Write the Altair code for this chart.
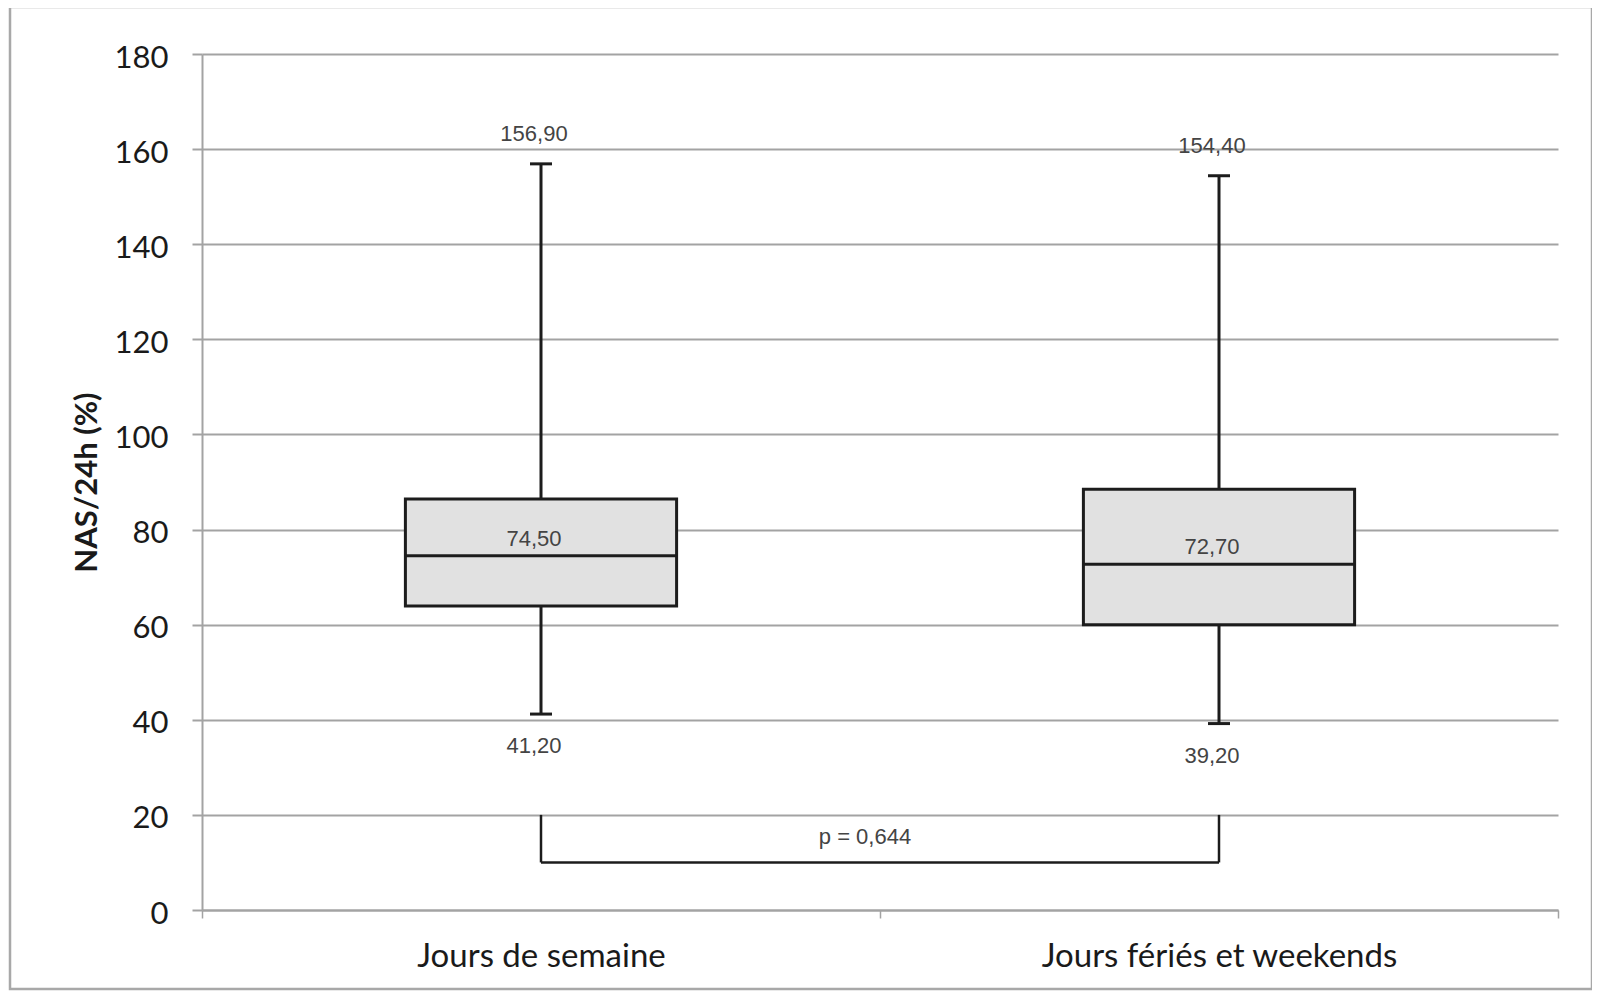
import altair as alt
import pandas as pd

# ---- data ----
categories = ["Jours de semaine", "Jours fériés et weekends"]
mins = [41.2, 39.2]
q1s = [63.9, 60.0]
medians = [74.5, 72.7]
q3s = [86.4, 88.5]
maxs = [156.9, 154.4]
p_text = "p = 0,644"
bracket_top = 20
bracket_low = 10
p_label_y = 15.3


def fr(v):
    return f"{v:.2f}".replace(".", ",")


df = pd.DataFrame({
    "cat": categories,
    "min": mins,
    "q1": q1s,
    "median": medians,
    "q3": q3s,
    "max": maxs,
    "min_lab": [fr(v) for v in mins],
    "med_lab": [fr(v) for v in medians],
    "max_lab": [fr(v) for v in maxs],
    "b_top": [bracket_top] * 2,
    "b_low": [bracket_low] * 2,
})
bracket_h = pd.DataFrame({"c1": [categories[0]], "c2": [categories[1]], "y": [bracket_low]})
p_df = pd.DataFrame({"t": [p_text], "y": [p_label_y]})
frame_df = pd.DataFrame({"k": [0]})

W, H = 1356, 856
GRAY = "#a3a3a3"
INK = "#1c1c1c"
LABEL = "#444444"

xenc = alt.X(
    "cat:N",
    sort=categories,
    scale=alt.Scale(paddingInner=0, paddingOuter=0),
    axis=alt.Axis(
        title=None, labelAngle=0, labelFont="Lato", labelFontSize=33,
        labelColor="#1a1a1a", labelPadding=22, labelLimit=0, tickBand="extent",
        tickSize=8, tickWidth=1.5, tickColor=GRAY, domainColor=GRAY,
        domainWidth=2, grid=False,
    ),
)
yscale = alt.Scale(domain=[0, 180], nice=False, zero=True)
yaxis = alt.Axis(
    values=list(range(0, 181, 20)), title="NAS/24h (%)", grid=True,
    gridColor=GRAY, gridWidth=2, domainColor=GRAY, domainWidth=2,
    tickColor=GRAY, tickWidth=2, tickSize=10, labelFont="Lato",
    labelFontSize=31, labelColor="#1a1a1a", labelPadding=24, labelOffset=4,
    titleFont="Lato", titleFontWeight="bold", titleFontSize=31,
    titleColor="#1a1a1a", titleAngle=270, titleX=-115, titleY=H / 2,
    titleAlign="center", titleBaseline="middle",
)

base = alt.Chart(df)

frame = alt.Chart(frame_df).mark_rect(filled=False, stroke="#a8a8a8", strokeWidth=2.5).encode(
    x=alt.value(-192), x2=alt.value(1390), y=alt.value(-47), y2=alt.value(935)
)

whisker = base.mark_rule(color=INK, strokeWidth=3).encode(
    x=xenc,
    y=alt.Y("min:Q", scale=yscale, axis=yaxis),
    y2="max:Q",
)
cap_lo = base.mark_tick(color=INK, thickness=3, size=22, opacity=1).encode(x=xenc, y=alt.Y("min:Q", scale=yscale))
cap_hi = base.mark_tick(color=INK, thickness=3, size=22, opacity=1).encode(x=xenc, y=alt.Y("max:Q", scale=yscale))
box = base.mark_bar(width={"band": 0.4}, fill="#e1e1e1", stroke=INK, strokeWidth=3, opacity=1).encode(
    x=xenc, y=alt.Y("q1:Q", scale=yscale), y2="q3:Q"
)
med = base.mark_tick(color=INK, thickness=3, size=272, opacity=1).encode(x=xenc, y=alt.Y("median:Q", scale=yscale))

txt_kw = dict(font="Liberation Sans", fontSize=22, color=LABEL, baseline="middle", dx=-7)
max_t = base.mark_text(dy=-30, **txt_kw).encode(x=xenc, y=alt.Y("max:Q", scale=yscale), text="max_lab:N")
min_t = base.mark_text(dy=32, **txt_kw).encode(x=xenc, y=alt.Y("min:Q", scale=yscale), text="min_lab:N")
med_t = base.mark_text(dy=-17, **txt_kw).encode(x=xenc, y=alt.Y("median:Q", scale=yscale), text="med_lab:N")

b_vert = base.mark_rule(color=INK, strokeWidth=2.5).encode(
    x=xenc, y=alt.Y("b_low:Q", scale=yscale), y2="b_top:Q"
)
b_horiz = alt.Chart(bracket_h).mark_rule(color=INK, strokeWidth=2.5).encode(
    x=alt.X("c1:N", sort=categories, scale=alt.Scale(paddingInner=0, paddingOuter=0)),
    x2="c2:N",
    y=alt.Y("y:Q", scale=yscale),
)
p_t = alt.Chart(p_df).mark_text(font="Liberation Sans", fontSize=22, color=LABEL, baseline="middle", dx=-15).encode(
    x=alt.value(W / 2), y=alt.Y("y:Q", scale=yscale), text="t:N"
)

chart = alt.layer(
    frame, whisker, cap_lo, cap_hi, box, med, b_vert, b_horiz, max_t, min_t, med_t, p_t
).properties(
    width=W, height=H,
    autosize=alt.AutoSizeParams(type="none"),
    padding={"left": 194, "top": 46, "right": 34, "bottom": 81},
    background="white",
).configure_view(stroke=None)

chart.save("out.html", embed_options={"renderer": "svg", "actions": False})
